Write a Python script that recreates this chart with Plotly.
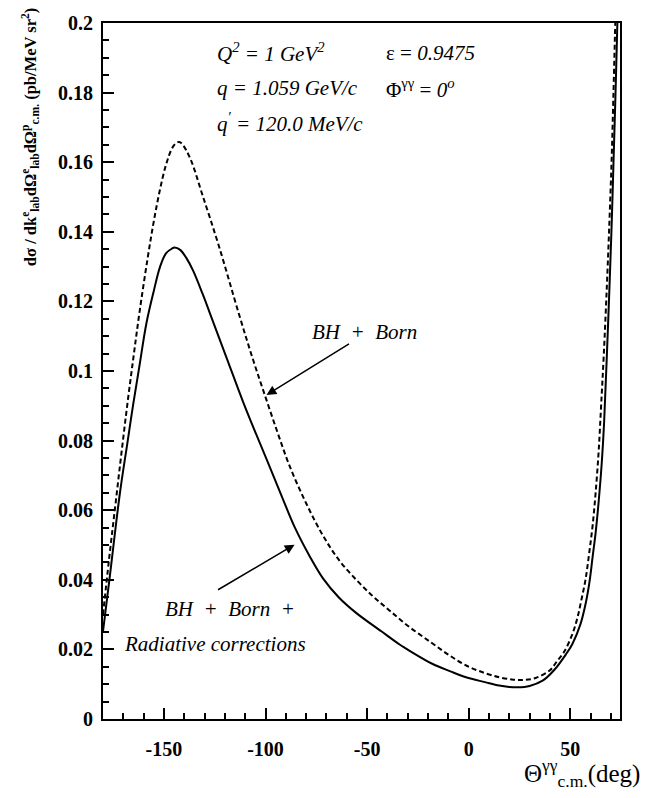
import plotly.graph_objects as go

# BH + Born (dashed)
theta_born = [-180, -177, -174, -171, -168, -165, -162, -158, -155, -152, -149, -146, -144,
              -142.5, -141, -137, -131, -123, -113, -106, -100, -94, -88, -80, -72, -64, -55,
              -47, -39, -30, -19, -10, -1, 8, 15, 22, 27, 33, 40, 43.6, 47, 51, 53.5, 55.3,
              57.5, 59.3, 61, 62.5, 64, 65.2, 66.5, 68, 69.3, 70.4, 71.2, 72, 72.7]
sig_born = [0.030, 0.046, 0.061, 0.076, 0.0905, 0.104, 0.117, 0.1325, 0.143, 0.152, 0.1592,
            0.1640, 0.1655, 0.1658, 0.1652, 0.1610, 0.1505, 0.1360, 0.1162, 0.1030, 0.0925,
            0.0822, 0.0725, 0.0620, 0.0530, 0.0458, 0.0398, 0.0352, 0.0312, 0.0268, 0.0222,
            0.0185, 0.0153, 0.0132, 0.0120, 0.0113, 0.0112, 0.0118, 0.0140, 0.0167, 0.0193,
            0.0243, 0.029, 0.0337, 0.040, 0.0475, 0.0555, 0.065, 0.077, 0.090, 0.1045,
            0.124, 0.143, 0.161, 0.178, 0.196, 0.212]

# BH + Born + radiative corrections (solid)
theta_rad = [-180, -176.6, -171.7, -168, -165.2, -162, -158.6, -155, -152, -149, -146,
             -144.7, -142, -139, -135.7, -131, -127.5, -119.3, -111.1, -106, -99.6, -92,
             -85.7, -78, -71.8, -64, -55.4, -43, -34, -31, -17.7, -9, -1.3, 8, 15, 20, 24,
             30, 36.4, 42, 47.9, 51, 55, 57.7, 59.5, 61, 62.5, 64, 65.5, 66.7, 68, 69.5,
             70.5, 71.3, 72.3, 73.2, 73.8]
sig_rad = [0.0252, 0.0412, 0.0648, 0.0793, 0.0902, 0.1017, 0.1138, 0.1230, 0.1298, 0.1338,
           0.1352, 0.1355, 0.1348, 0.1325, 0.1289, 0.1222, 0.1168, 0.1040, 0.0912, 0.0838,
           0.0748, 0.0640, 0.0552, 0.0465, 0.0405, 0.0350, 0.0305, 0.0252, 0.0214, 0.0203,
           0.0158, 0.0137, 0.0120, 0.0106, 0.0096, 0.0092, 0.0091, 0.0095, 0.0110, 0.0140,
           0.0186, 0.0215, 0.0272, 0.0335, 0.0395, 0.0465, 0.0535, 0.0625, 0.0735, 0.0855,
           0.104, 0.127, 0.144, 0.160, 0.180, 0.200, 0.213]

x_ticks = [-150, -100, -50, 0, 50]
y_ticks = [0, 0.02, 0.04, 0.06, 0.08, 0.1, 0.12, 0.14, 0.16, 0.18, 0.2]

serif = "Liberation Serif"

fig = go.Figure()
fig.add_trace(go.Scatter(x=theta_born, y=sig_born, mode="lines", name="BH + Born",
                         line=dict(color="black", width=2, dash="5px,3px", shape="spline",
                                   smoothing=1)))
fig.add_trace(go.Scatter(x=theta_rad, y=sig_rad, mode="lines",
                         name="BH + Born + Radiative corrections",
                         line=dict(color="black", width=2, shape="spline", smoothing=1)))

axis_common = dict(showgrid=False, zeroline=False, showline=True, linecolor="black",
                   linewidth=2, mirror=True, ticks="inside", tickcolor="black",
                   tickwidth=1.5, ticklen=11,
                   tickfont=dict(family=serif, size=20, color="black", weight="bold"))

fig.update_xaxes(range=[-180, 74.5], tickvals=x_ticks,
                 ticktext=[("-" + str(-v)) if v < 0 else str(v) for v in x_ticks],
                 minor=dict(dtick=10, ticks="inside", ticklen=6, tickwidth=1.5,
                            tickcolor="black", tick0=0),
                 ticklabelstandoff=11, **axis_common)
fig.update_yaxes(range=[0, 0.2], tickvals=y_ticks,
                 ticktext=[("%g" % v) for v in y_ticks],
                 minor=dict(dtick=0.005, ticks="inside", ticklen=6, tickwidth=1.5,
                            tickcolor="black", tick0=0),
                 ticklabelstandoff=4, **axis_common)

ann_font = dict(family=serif, size=21, color="black")
sp = "\u2002"
annotations = [
    dict(text="<i>Q<sup>2</sup> = 1 GeV<sup>2</sup></i>", x=-125, y=0.1915),
    dict(text="<i>q = 1.059 GeV/c</i>", x=-125, y=0.1813),
    dict(text="<i>q<sup>\u2032</sup> = 120.0 MeV/c</i>", x=-125, y=0.1714),
    dict(text="\u03b5 = <i>0.9475</i>", x=-41.5, y=0.1915),
    dict(text="\u03a6<sup>\u03b3\u03b3</sup> = <i>0<sup>o</sup></i>", x=-41.5, y=0.1813),
    dict(text="<i>BH" + sp + "+" + sp + "Born</i>", x=-78.3, y=0.1113),
    dict(text="<i>BH" + sp + "+" + sp + "Born" + sp + "+</i>", x=-150.7, y=0.0317),
    dict(text="<i>Radiative corrections</i>", x=-170.7, y=0.0215),
]
for a in annotations:
    a.update(xref="x", yref="y", showarrow=False, xanchor="left", yanchor="middle",
             font=ann_font)

# arrows
annotations.append(dict(x=-99.5, y=0.0931, xref="x", yref="y", ax=84, ay=-52, text="",
                        showarrow=True, arrowhead=2, arrowsize=1.3, arrowwidth=1.5,
                        arrowcolor="black"))
annotations.append(dict(x=-85.7, y=0.0501, xref="x", yref="y", ax=-78, ay=46, text="",
                        showarrow=True, arrowhead=2, arrowsize=1.3, arrowwidth=1.5,
                        arrowcolor="black"))

# axis titles
annotations.append(dict(
    text="d\u03c3 / dk<sup>e</sup><sub>lab</sub>d\u03a9<sup>e</sup><sub>lab</sub>d\u03a9<sup>p</sup><sub>c.m.</sub> (pb/MeV sr<sup>2</sup>)",
    xref="paper", yref="paper", x=0, y=0.836, xanchor="center", yanchor="middle",
    xshift=-73, textangle=-90, showarrow=False,
    font=dict(family=serif, size=16.5, color="black", weight="bold")))
annotations.append(dict(
    text="\u0398<sup>\u03b3\u03b3</sup><sub>c.m.</sub>(deg)",
    xref="paper", yref="paper", x=1, y=0, xanchor="right", yanchor="middle",
    xshift=22, yshift=-54, showarrow=False,
    font=dict(family=serif, size=25, color="black")))

fig.update_layout(width=645, height=798, margin=dict(l=103, r=25, t=12, b=79),
                  paper_bgcolor="white", plot_bgcolor="white", showlegend=False,
                  annotations=annotations)

fig.write_html("out.html")
